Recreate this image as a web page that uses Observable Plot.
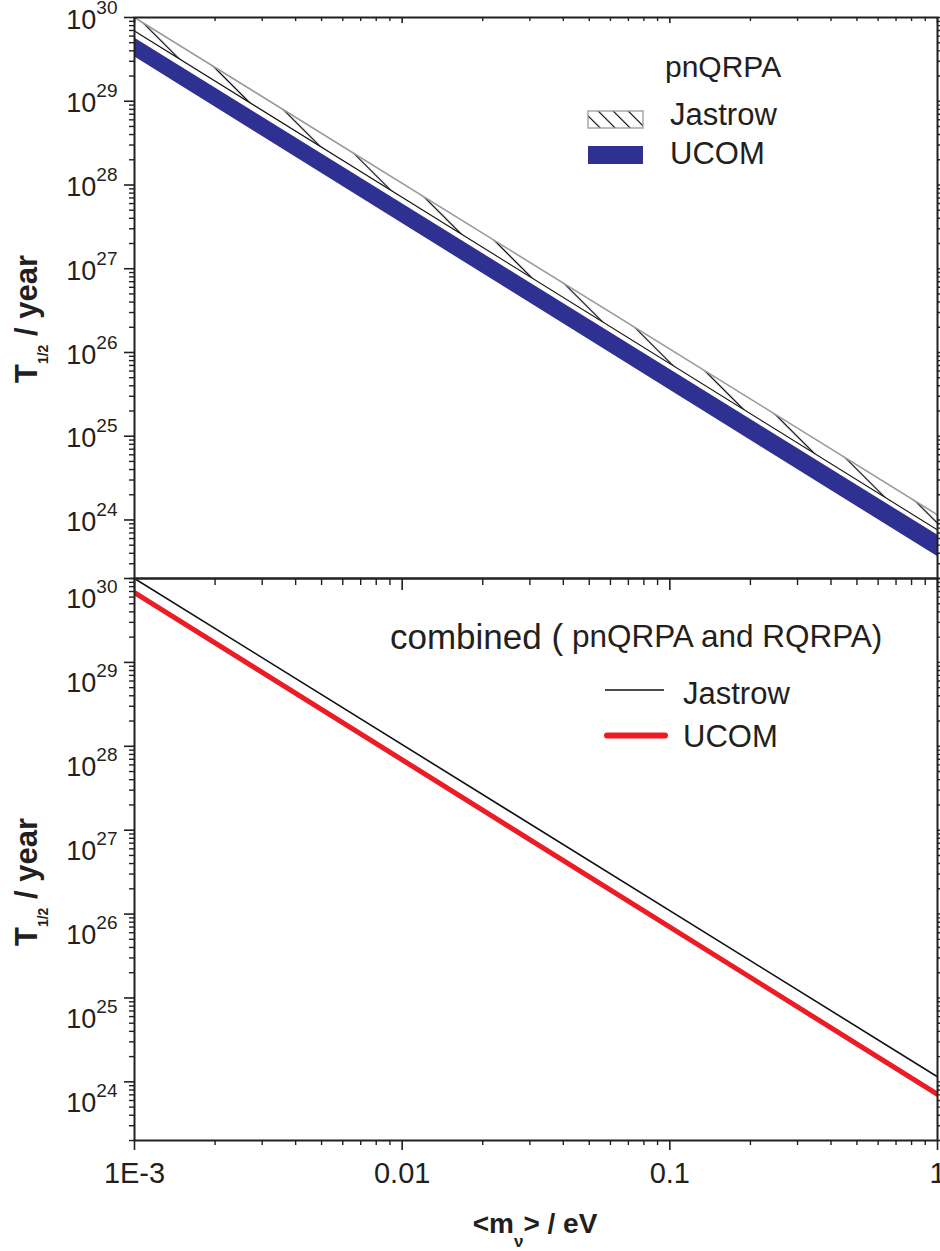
<!DOCTYPE html>
<html><head><meta charset="utf-8">
<script src="https://cdn.jsdelivr.net/npm/d3@7"></script>
<script src="https://cdn.jsdelivr.net/npm/@observablehq/plot@0.6"></script>
<style>
body{margin:0;background:#fff;}
#wrap{position:relative;width:940px;height:1251px;overflow:hidden;font-family:"Liberation Sans",Arial,sans-serif;background:#fff;}
#top,#bot{position:absolute;left:0;}
#top{top:0;z-index:2}
#bot{top:561px;z-index:1}
svg{overflow:visible}
</style></head><body><div id="wrap"><div id="top"></div><div id="bot"></div></div>
<script>
// ---- data ----
const mass = [0.001, 1];                       // <m_nu> / eV (end points)
const pnJastrowUpper = [1.0e30, 1.15e24];      // pnQRPA Jastrow band, upper edge
const pnJastrowLower = [6.9e29, 7.6e23];       // pnQRPA Jastrow band, lower edge
const pnUcomUpper = [5.7e29, 6.6e23];          // pnQRPA UCOM band, upper edge
const pnUcomLower = [3.4e29, 3.65e23];         // pnQRPA UCOM band, lower edge
const combJastrow = [1.0e30, 1.15e24];         // combined Jastrow
const combUcom = [6.8e29, 7.1e23];             // combined UCOM

const xMajor = [0.001, 0.01, 0.1, 1];
const xMajorLabels = ["1E-3", "0.01", "0.1", "1"];
const xDecades = [0.001, 0.01, 0.1];
const yExponents = [24, 25, 26, 27, 28, 29, 30];
const yDecades = [1e23, 1e24, 1e25, 1e26, 1e27, 1e28, 1e29];
const minorMult = [2, 3, 4, 5, 6, 7, 8, 9];
const yDomain = [2e23, 1e30];
const xDomain = [0.001, 1];

const ink = "#231f20";
const blue = "#2e3192";
const red = "#ed1c24";
const FONT = '"Liberation Sans", Arial, Helvetica, sans-serif';

const yMajor = yExponents.map(e => Math.pow(10, e));
const xMinor = xDecades.flatMap(d => minorMult.map(k => d * k));
const yMinor = yDecades.flatMap(d => minorMult.map(k => d * k)).filter(v => v >= yDomain[0] * 0.999 && v <= yDomain[1]);

const topRows = mass.map((m, i) => ({m, ju: pnJastrowUpper[i], jl: pnJastrowLower[i], uu: pnUcomUpper[i], ul: pnUcomLower[i]}));
const botRows = mass.map((m, i) => ({m, j: combJastrow[i], u: combUcom[i]}));

function tickAxisY(ticks, anchor, size, sw) {
  return Plot.axisY({ticks, anchor, tickSize: size, text: null, label: null, strokeWidth: sw, stroke: ink});
}
function tickAxisX(ticks, anchor, size, sw) {
  return Plot.axisX({ticks, anchor, tickSize: size, text: null, label: null, strokeWidth: sw, stroke: ink});
}

function frameAxes(labelDy, showXLabels) {
  const marks = [
    Plot.frame({stroke: ink, strokeWidth: 2}),
    tickAxisY(yMajor, "left", 10, 1.6),
    tickAxisY(yMinor, "left", 5, 1.4),
    Plot.axisY({ticks: yMajor, anchor: "left", tickSize: 0, tickPadding: 17, fontSize: 27, fill: ink, dy: labelDy, label: null,
      tickFormat: d => "10|" + Math.round(Math.log10(d))}),
    tickAxisY(yMajor.concat(yMinor), "right", 4, 1.4)
  ];
  if (showXLabels) {
    marks.push(
      Plot.axisX({ticks: xMajor, anchor: "bottom", tickSize: 10, tickPadding: 12, fontSize: 29, fill: ink, strokeWidth: 1.6, stroke: ink, label: null,
        tickFormat: d => xMajorLabels[xMajor.indexOf(d)]}),
      tickAxisX(xMinor, "bottom", 5, 1.4)
    );
  } else {
    marks.push(
      tickAxisX(xMajor, "bottom", 12, 1.6),
      tickAxisX(xMinor, "bottom", 7, 1.4),
      tickAxisX(xMajor, "top", -5, 1.6),
      tickAxisX(xMinor, "top", -3, 1.4)
    );
  }
  return marks;
}

const common = {
  width: 940,
  marginLeft: 134,
  marginRight: 3,
  marginTop: 17,
  x: {type: "log", domain: xDomain},
  y: {type: "log", domain: yDomain},
  style: {fontFamily: FONT, color: ink, background: "transparent", overflow: "visible"}
};

const topPlot = Plot.plot({
  ...common,
  height: 600,
  marginBottom: 22,
  marks: [
    Plot.areaY(topRows, {x: "m", y1: "jl", y2: "ju", fill: "#fefefe", clip: true}),
    Plot.areaY(topRows, {x: "m", y1: "ul", y2: "uu", fill: blue, clip: true}),
    Plot.line(topRows, {x: "m", y: "ju", stroke: "#9a9a9a", strokeWidth: 1.6, clip: true}),
    Plot.line(topRows, {x: "m", y: "jl", stroke: "#111", strokeWidth: 1.1, clip: true}),
    ...frameAxes(2.4, false)
  ]
});

const botPlot = Plot.plot({
  ...common,
  height: 690,
  marginBottom: 111,
  marks: [
    Plot.line(botRows, {x: "m", y: "j", stroke: "#111", strokeWidth: 1.6, clip: true}),
    Plot.line(botRows, {x: "m", y: "u", stroke: red, strokeWidth: 5, clip: true}),
    ...frameAxes(21, true)
  ]
});

document.getElementById("top").appendChild(topPlot);
document.getElementById("bot").appendChild(botPlot);

const NS = "http://www.w3.org/2000/svg";
function fixLabels(svg) {
  svg.querySelectorAll("text").forEach(t => {
    const s = t.textContent;
    if (s.startsWith("10|")) {
      const e = s.slice(3);
      t.textContent = "10";
      t.setAttribute("font-size", "27");
      t.style.fontSize = "27px";
      const sp = document.createElementNS(NS, "tspan");
      sp.setAttribute("dy", "-15");
      sp.setAttribute("font-size", "19");
      sp.style.fontSize = "19px";
      sp.textContent = e;
      t.appendChild(sp);
    } else if (xMajorLabels.includes(s)) {
      t.setAttribute("font-size", "29");
      t.style.fontSize = "29px";
    }
  });
}
fixLabels(topPlot);
fixLabels(botPlot);

// hatch patterns
const tsvg = d3.select(topPlot);
const defs = tsvg.insert("defs", ":first-child");
function hatch(id, gap, sw) {
  const p = defs.append("pattern").attr("id", id).attr("patternUnits", "userSpaceOnUse")
    .attr("width", gap).attr("height", gap).attr("patternTransform", "rotate(-45)");
  p.append("line").attr("x1", gap / 2).attr("x2", gap / 2).attr("y1", -1).attr("y2", gap + 1)
    .attr("stroke", "#000").attr("stroke-width", sw);
}
hatch("jhatch", 18.9, 1.2);
hatch("lhatch", 10.6, 1.1);
topPlot.querySelectorAll('[fill="#fefefe"]').forEach(el => el.setAttribute("fill", "url(#jhatch)"));

function yTitle(sel, cy) {
  const t = sel.append("text").attr("transform", `translate(37,${cy}) rotate(-90)`)
    .attr("text-anchor", "middle").attr("font-family", FONT).attr("font-weight", "bold")
    .attr("font-size", 31).attr("fill", ink);
  t.append("tspan").text("T");
  t.append("tspan").attr("font-size", 14).attr("dy", 11).text("1/2");
  t.append("tspan").attr("dy", -11).text(" / year");
}
yTitle(tsvg, 319);

// top legend
const tl = tsvg.append("g").attr("font-family", FONT).attr("fill", ink).attr("text-anchor", "start");
tl.append("text").attr("x", 665).attr("y", 77).attr("font-size", 30).text("pnQRPA");
tl.append("rect").attr("x", 588).attr("y", 111).attr("width", 55).attr("height", 17)
  .attr("fill", "url(#lhatch)").attr("stroke", "#9a9a9a").attr("stroke-width", 1.3);
tl.append("text").attr("x", 670).attr("y", 125).attr("font-size", 31).text("Jastrow");
tl.append("rect").attr("x", 588).attr("y", 146).attr("width", 55).attr("height", 18).attr("fill", blue);
tl.append("text").attr("x", 670).attr("y", 164).attr("font-size", 31).text("UCOM");

// bottom panel annotations
const bsvg = d3.select(botPlot);
yTitle(bsvg, 321);
const xt = bsvg.append("text").attr("x", 535).attr("y", 672).attr("text-anchor", "middle")
  .attr("font-family", FONT).attr("font-weight", "bold").attr("font-size", 28).attr("fill", ink);
xt.append("tspan").text("<m");
xt.append("tspan").attr("font-size", 17).attr("dy", 14).text("ν");
xt.append("tspan").attr("dy", -14).text("> / eV");

const bl = bsvg.append("g").attr("font-family", FONT).attr("fill", ink).attr("text-anchor", "start");
const ct = bl.append("text").attr("x", 390).attr("y", 88).attr("font-size", 35);
ct.append("tspan").text("combined (");
ct.append("tspan").attr("font-size", 31.5).attr("dy", -2).text(" pnQRPA and RQRPA)");
bl.append("line").attr("x1", 605).attr("x2", 664).attr("y1", 129).attr("y2", 129)
  .attr("stroke", "#111").attr("stroke-width", 1.6);
bl.append("text").attr("x", 683).attr("y", 142.6).attr("font-size", 31).text("Jastrow");
bl.append("line").attr("x1", 607).attr("x2", 665).attr("y1", 174.6).attr("y2", 174.6)
  .attr("stroke", red).attr("stroke-width", 6).attr("stroke-linecap", "round");
bl.append("text").attr("x", 683).attr("y", 186).attr("font-size", 31).text("UCOM");
</script>
</body></html>
